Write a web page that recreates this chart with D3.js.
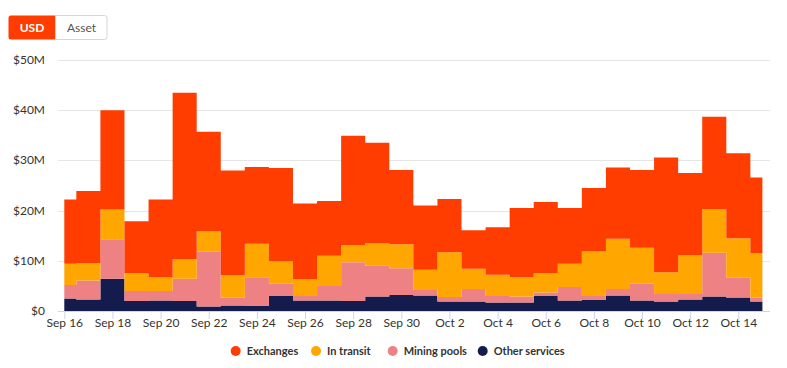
<!DOCTYPE html>
<html>
<head>
<meta charset="utf-8">
<script src="https://cdn.jsdelivr.net/npm/d3@7/dist/d3.min.js"></script>
<style>
  html, body { margin: 0; padding: 0; background: #fff; }
  body { width: 787px; height: 368px; overflow: hidden; font-family: Lato, "Open Sans", sans-serif; }
  svg { display: block; }
</style>
</head>
<body>
<svg id="chart" width="787" height="368"></svg>
<script>
// ---- Data (values in $M) ----
const dates = ["2023-09-16","2023-09-17","2023-09-18","2023-09-19","2023-09-20","2023-09-21","2023-09-22","2023-09-23","2023-09-24","2023-09-25",
  "2023-09-26","2023-09-27","2023-09-28","2023-09-29","2023-09-30","2023-10-01","2023-10-02","2023-10-03","2023-10-04","2023-10-05",
  "2023-10-06","2023-10-07","2023-10-08","2023-10-09","2023-10-10","2023-10-11","2023-10-12","2023-10-13","2023-10-14","2023-10-15"];
const otherServices = [2.5, 2.3, 6.4, 2.0, 2.1, 2.0, 0.9, 1.1, 1.0, 3.0, 2.1, 2.1, 2.0, 2.9, 3.2, 3.1, 1.9, 1.9, 1.7, 1.7, 3.0, 2.1, 2.2, 3.1, 2.1, 1.9, 2.3, 2.9, 2.7, 1.9];
const miningPools   = [2.7, 3.8, 7.9, 2.0, 1.9, 4.4, 10.9, 1.6, 5.7, 2.5, 0.9, 2.9, 7.7, 6.1, 5.3, 1.1, 0.9, 2.5, 1.3, 1.2, 0.7, 2.7, 0.8, 1.3, 3.4, 1.5, 1.1, 8.7, 3.9, 0.8];
const inTransit     = [4.2, 3.4, 5.9, 3.5, 2.7, 3.9, 4.1, 4.4, 6.7, 4.4, 3.3, 6.0, 3.4, 4.5, 4.8, 4.0, 8.9, 4.0, 4.2, 3.8, 3.8, 4.6, 8.9, 10.0, 7.1, 4.3, 7.7, 8.7, 7.9, 8.8];
const exchanges     = [12.8, 14.4, 19.8, 10.4, 15.5, 33.2, 19.8, 20.9, 15.3, 18.6, 15.1, 10.9, 21.8, 20.0, 14.8, 12.8, 10.6, 7.7, 9.5, 13.8, 14.2, 11.1, 12.6, 14.2, 15.5, 22.9, 16.4, 18.4, 16.9, 15.1];
const seriesNames = ["Other services", "Mining pools", "In transit", "Exchanges"];
const legendOrder = ["Exchanges", "In transit", "Mining pools", "Other services"];
const colors = { "Exchanges": "#ff3d00", "In transit": "#ffa600", "Mining pools": "#ee8184", "Other services": "#141c4d" };
const yTicks = [0, 10, 20, 30, 40, 50];
const xTickDates = ["2023-09-16","2023-09-18","2023-09-20","2023-09-22","2023-09-24","2023-09-26","2023-09-28","2023-09-30",
  "2023-10-02","2023-10-04","2023-10-06","2023-10-08","2023-10-10","2023-10-12","2023-10-14"];

const parse = d3.timeParse("%Y-%m-%d");
const rows = dates.map((d, i) => ({
  date: parse(d),
  "Other services": otherServices[i],
  "Mining pools": miningPools[i],
  "In transit": inTransit[i],
  "Exchanges": exchanges[i]
}));

const svg = d3.select("#chart");
const plotLeft = 58, plotRight = 770;

const x = d3.scaleTime().domain([parse(dates[0]), parse(dates[dates.length - 1])]).range([64.3, 762.4]);
const y = d3.scaleLinear().domain([0, 50]).range([311, 60]);

// Gridlines
svg.append("g").selectAll("line").data(yTicks.filter(t => t > 0)).join("line")
  .attr("x1", plotLeft).attr("x2", plotRight)
  .attr("y1", d => Math.round(y(d)) + 0.5).attr("y2", d => Math.round(y(d)) + 0.5)
  .attr("stroke", "#e6e6e6").attr("stroke-width", 1);

// Y labels
svg.append("g").selectAll("text").data(yTicks).join("text")
  .attr("x", 45).attr("y", d => y(d) + 4)
  .attr("text-anchor", "end")
  .attr("font-size", 12).attr("fill", "#333")
  .text(d => "$" + d + (d === 0 ? "" : "M"));

// Stacked step areas
const stack = d3.stack().keys(seriesNames);
const layers = stack(rows);
const area = d3.area()
  .x(d => x(d.data.date))
  .y0(d => y(d[0]))
  .y1(d => y(d[1]))
  .curve(d3.curveStep);
svg.append("g").selectAll("path").data(layers).join("path")
  .attr("d", area)
  .attr("fill", d => colors[d.key]);

// X axis
const xAxis = d3.axisBottom(x)
  .tickValues(xTickDates.map(parse))
  .tickFormat(d3.timeFormat("%b %-d"))
  .tickSize(8).tickSizeOuter(0);
const gx = svg.append("g").attr("transform", "translate(0,311)").call(xAxis);
gx.select(".domain").remove();
gx.insert("line", ":first-child").attr("x1", plotLeft).attr("x2", plotRight).attr("y1", 0.5).attr("y2", 0.5)
  .attr("stroke", "#ccd6eb");
gx.selectAll(".tick line").attr("stroke", "#ccd6eb");
gx.selectAll(".tick text").attr("font-size", 12).attr("fill", "#333")
  .attr("font-family", "Lato, sans-serif").attr("dy", "0.6em").attr("y", 9);

// Legend
const legendPos = [235.7, 316, 392.7, 482.7];
const lg = svg.append("g").selectAll("g").data(legendOrder).join("g")
  .attr("transform", (d, i) => `translate(${legendPos[i]},351)`);
lg.append("circle").attr("r", 5).attr("fill", d => colors[d]);
lg.append("text").attr("x", 11).attr("y", 4).attr("font-size", 11).attr("font-weight", 700)
  .attr("fill", "#333").text(d => d);

// Toggle buttons
const btn = svg.append("g");
btn.append("path").attr("d", "M11,15.5 H55.5 V39.5 H11 Q8.5,39.5 8.5,37 V18 Q8.5,15.5 11,15.5 Z").attr("fill", "#ff3d00");
btn.append("path").attr("d", "M55.5,15.5 H104.5 Q107,15.5 107,18 V37 Q107,39.5 104.5,39.5 H55.5 Z")
  .attr("fill", "#fff").attr("stroke", "#d6d6d6");
btn.append("text").attr("x", 32).attr("y", 32).attr("text-anchor", "middle").attr("font-size", 12)
  .attr("font-weight", 700).attr("fill", "#fff").text("USD");
btn.append("text").attr("x", 81.5).attr("y", 32).attr("text-anchor", "middle").attr("font-size", 12)
  .attr("fill", "#555").text("Asset");
</script>
</body>
</html>
